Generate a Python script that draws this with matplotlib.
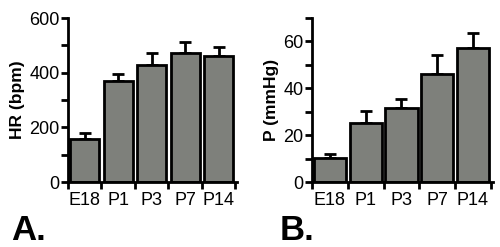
import numpy as np
import matplotlib
matplotlib.use("Agg")
import matplotlib.pyplot as plt

plt.rcParams['font.family'] = ['Liberation Sans', 'DejaVu Sans']

groups = ["E18", "P1", "P3", "P7", "P14"]

# panel A: heart rate
hr_mean = [156, 370, 428, 473, 461]
hr_err = [22, 27, 45, 40, 34]

# panel B: pressure
p_mean = [10.4, 25.3, 31.4, 46.3, 57.3]
p_err = [1.6, 5.1, 4.0, 8.1, 6.1]

bar_color = "#7e807b"


def draw_panel(ax, means, errs, ylim, major, minor, ylabel, width, xmax):
    x = np.arange(len(groups))
    ax.bar(x, means, width=width, color=bar_color, edgecolor="black",
           linewidth=2, zorder=2)
    ax.errorbar(x, means, yerr=[np.zeros(len(errs)), errs], fmt="none",
                ecolor="black", elinewidth=2, capsize=4, capthick=2, zorder=1)
    ax.set_xlim(-0.5, xmax)
    ax.set_ylim(*ylim)
    for s in ["top", "right"]:
        ax.spines[s].set_visible(False)
    for s in ["left", "bottom"]:
        ax.spines[s].set_linewidth(2)
    # ticks at bar boundaries, labels at centres
    ax.set_xticks(np.arange(len(groups) + 1) - 0.5)
    ax.set_xticklabels([])
    ax.set_xticks(x, minor=True)
    ax.set_xticklabels(groups, minor=True)
    ax.tick_params(axis="x", which="major", length=5, width=2)
    ax.tick_params(axis="x", which="minor", length=0, labelsize=13, pad=7)
    ax.set_yticks(major)
    ax.set_yticks(minor, minor=True)
    ax.tick_params(axis="y", which="both", length=5, width=2, labelsize=13, pad=1)
    ax.set_ylabel(ylabel, fontsize=12.5, fontweight="bold", labelpad=3)


fig = plt.figure(figsize=(5, 2.47), dpi=100)
ax1 = fig.add_axes([0.136, 0.263, 0.338, 0.664])
ax2 = fig.add_axes([0.624, 0.263, 0.362, 0.664])

draw_panel(ax1, hr_mean, hr_err, (0, 600), [0, 200, 400, 600],
           np.arange(0, 601, 100), "HR (bpm)", 0.87, 4.55)
draw_panel(ax2, p_mean, p_err, (0, 70), [0, 20, 40, 60],
           np.arange(0, 71, 10), "P (mmHg)", 0.9, 4.56)

fig.text(0.022, 0.03, "A.", fontsize=25, fontweight="bold")
fig.text(0.56, 0.03, "B.", fontsize=25, fontweight="bold")

fig.savefig("out.png", dpi=100)
